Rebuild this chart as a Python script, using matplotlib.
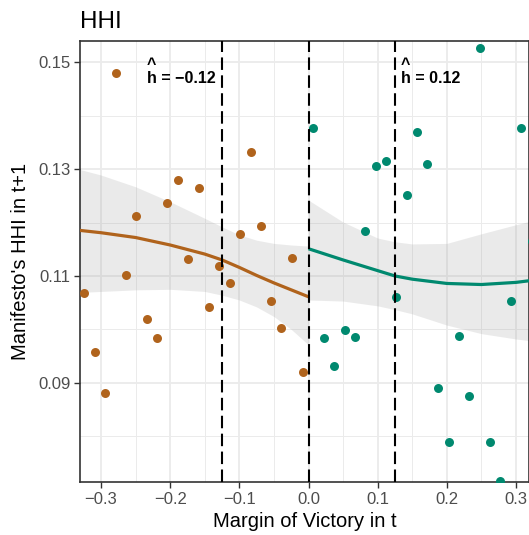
import numpy as np
import matplotlib
matplotlib.use('Agg')
import matplotlib.pyplot as plt

plt.rcParams['font.family'] = ['Liberation Sans', 'DejaVu Sans']

# binned means, left of cutoff
left_x = [-0.3246, -0.3091, -0.2938, -0.2787, -0.2638, -0.2488, -0.2338, -0.2184,
          -0.2039, -0.1888, -0.1739, -0.1584, -0.1435, -0.1290, -0.1130, -0.0986,
          -0.0836, -0.0686, -0.0536, -0.0391, -0.0232, -0.0083]
left_y = [0.1068, 0.0957, 0.0881, 0.1481, 0.1101, 0.1213, 0.1019, 0.0984,
          0.1236, 0.1280, 0.1132, 0.1265, 0.1041, 0.1118, 0.1086, 0.1178,
          0.1333, 0.1194, 0.1053, 0.1003, 0.1134, 0.0920]

# binned means, right of cutoff
right_x = [0.0068, 0.0217, 0.0367, 0.0522, 0.0671, 0.0822, 0.0971, 0.1120,
           0.1271, 0.1420, 0.1570, 0.1720, 0.1874, 0.2025, 0.2174, 0.2323,
           0.2474, 0.2623, 0.2772, 0.2923, 0.3072, 0.3225]
right_y = [0.1377, 0.0984, 0.0931, 0.0999, 0.0986, 0.1184, 0.1306, 0.1315,
           0.1060, 0.1252, 0.1370, 0.1309, 0.0890, 0.0789, 0.0988, 0.0875,
           0.1526, 0.0789, 0.0717, 0.1053, 0.1378, 0.1165]

# fitted curves + confidence bands
fit_left_x = [-0.335, -0.30, -0.25, -0.20, -0.15, -0.125, -0.10, -0.075, -0.05, -0.025, 0.0]
fit_left = [0.1186, 0.1181, 0.1172, 0.1158, 0.1141, 0.1130, 0.1116, 0.1101, 0.1087, 0.1074, 0.1061]
fit_left_hi = [0.1301, 0.1289, 0.1267, 0.1239, 0.1208, 0.1192, 0.1177, 0.1167, 0.1161, 0.1158, 0.1156]
fit_left_lo = [0.1069, 0.1071, 0.1074, 0.1075, 0.1071, 0.1064, 0.1055, 0.1042, 0.1024, 0.1000, 0.0971]

fit_right_x = [0.0, 0.05, 0.10, 0.125, 0.15, 0.20, 0.25, 0.30, 0.325]
fit_right = [0.1151, 0.1130, 0.1110, 0.1100, 0.1094, 0.1086, 0.1084, 0.1088, 0.1092]
fit_right_hi = [0.1242, 0.1201, 0.1171, 0.1164, 0.1160, 0.1161, 0.1179, 0.1196, 0.1204]
fit_right_lo = [0.1055, 0.1053, 0.1044, 0.1037, 0.1029, 0.1008, 0.0992, 0.0982, 0.0978]

h_left, h_right = -0.1257, 0.1246
# caret on its own line sits over the h
h_labels = ['^\nh = \u22120.12', '^\nh = 0.12']

orange = '#B0631C'
teal = '#00896F'

fig = plt.figure(figsize=(5.29, 5.35), dpi=100)
ax = fig.add_axes([80/529, 1 - 482/535, 1 - 80/529, (482 - 41)/535])

ax.fill_between(fit_left_x, fit_left_lo, fit_left_hi, color='#999999', alpha=0.2, lw=0, zorder=2)
ax.fill_between(fit_right_x, fit_right_lo, fit_right_hi, color='#999999', alpha=0.2, lw=0, zorder=2)

ax.scatter(left_x, left_y, s=42, color=orange, lw=0, zorder=3)
ax.scatter(right_x, right_y, s=42, color=teal, lw=0, zorder=3)

ax.plot(fit_left_x, fit_left, color=orange, lw=2.3, zorder=4, solid_capstyle='butt')
ax.plot(fit_right_x, fit_right, color=teal, lw=2.3, zorder=4, solid_capstyle='butt')

for xv in [h_left, 0.0, h_right]:
    ax.axvline(xv, color='black', lw=1.5, ls=(0, (6, 2.6)), zorder=5)

ax.set_xticks([-0.3, -0.2, -0.1, 0.0, 0.1, 0.2, 0.3])
ax.set_xticklabels(['\u22120.3', '\u22120.2', '\u22120.1', '0.0', '0.1', '0.2', '0.3'])
ax.set_yticks([0.09, 0.11, 0.13, 0.15])
ax.set_xticks([-0.25, -0.15, -0.05, 0.05, 0.15, 0.25], minor=True)
ax.set_yticks([0.08, 0.10, 0.12, 0.14], minor=True)
ax.set_xlim(-0.3304, 0.3188)
ax.set_ylim(0.07142, 0.1540)

ax.grid(True, which='major', color='#EBEBEB', lw=1.3, zorder=0)
ax.grid(True, which='minor', color='#EBEBEB', lw=0.7, zorder=0)
ax.set_axisbelow(True)
ax.tick_params(which='major', direction='out', length=4, width=1, color='#333333',
               labelcolor='#4D4D4D', labelsize=12, pad=3)
ax.tick_params(which='minor', length=0)
for sp in ax.spines.values():
    sp.set_color('#333333')
    sp.set_linewidth(1.2)

ax.set_xlabel('Margin of Victory in t', fontsize=14.5, labelpad=4)
ax.set_ylabel("Manifesto's HHI in t+1", fontsize=14.5, labelpad=6)
ax.set_title('HHI', fontsize=17.5, loc='left', pad=9)

# bandwidth labels
ax.text(h_left - 0.009, 0.1462, h_labels[0], ha='right', va='baseline', multialignment='left',
        linespacing=0.9, fontsize=11.5, fontweight='bold', zorder=6)
ax.text(h_right + 0.009, 0.1462, h_labels[1], ha='left', va='baseline', multialignment='left',
        linespacing=0.9, fontsize=11.5, fontweight='bold', zorder=6)

fig.savefig('out.png', dpi=100)
